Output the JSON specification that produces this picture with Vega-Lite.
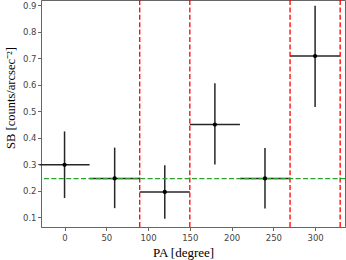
{
  "$schema": "https://vega.github.io/schema/vega-lite/v6.json",
  "autosize": "none",
  "width": 304,
  "height": 227,
  "padding": {"left": 41, "top": 0, "right": 1, "bottom": 33},
  "background": "white",
  "config": {
    "view": {"stroke": "#666", "strokeWidth": 1},
    "axis": {"labelOverlap": false}
  },
  "datasets": {
    "pts": [
      {"pa": 0, "sb": 0.298, "xlo": -30, "xhi": 30, "ylo": 0.173, "yhi": 0.424},
      {"pa": 60, "sb": 0.247, "xlo": 30, "xhi": 90, "ylo": 0.135, "yhi": 0.363},
      {"pa": 120, "sb": 0.196, "xlo": 90, "xhi": 150, "ylo": 0.095, "yhi": 0.297},
      {"pa": 180, "sb": 0.45, "xlo": 150, "xhi": 210, "ylo": 0.299, "yhi": 0.605},
      {"pa": 240, "sb": 0.247, "xlo": 210, "xhi": 270, "ylo": 0.134, "yhi": 0.362},
      {"pa": 300, "sb": 0.708, "xlo": 270, "xhi": 330, "ylo": 0.516, "yhi": 0.897}
    ],
    "vlines": [{"pa": 90}, {"pa": 150}, {"pa": 270}, {"pa": 330}],
    "hline": [{"sb": 0.246}]
  },
  "layer": [
    {
      "data": {"name": "pts"},
      "mark": {"type": "rule", "color": "#262626", "strokeWidth": 1.5},
      "encoding": {
        "x": {
          "field": "xlo", "type": "quantitative",
          "scale": {"domain": [-28.2, 335.8], "nice": false, "zero": false},
          "axis": {
            "values": [0, 50, 100, 150, 200, 250, 300],
            "grid": false,
            "title": "PA [degree]",
            "titleFont": "Liberation Serif",
            "titleFontSize": 13,
            "titleFontWeight": "normal",
            "titleColor": "black",
            "titleX": 142,
            "titleY": 29,
            "titleAlign": "center",
            "titleBaseline": "alphabetic",
            "labelFont": "DejaVu Sans",
            "labelFontSize": 8.5,
            "labelColor": "#444",
            "labelPadding": 2.5,
            "labelOverlap": false,
            "tickSize": 3.5,
            "tickColor": "#666",
            "domainColor": "#666",
            "labelFlush": false
          }
        },
        "x2": {"field": "xhi"},
        "y": {
          "field": "sb", "type": "quantitative",
          "scale": {"domain": [0.064, 0.919], "nice": false, "zero": false},
          "axis": {
            "values": [0.1, 0.2, 0.3, 0.4, 0.5, 0.6, 0.7, 0.8, 0.9],
            "tickCount": 9,
            "format": ".1f",
            "grid": false,
            "title": "SB [counts/arcsec⁻²]",
            "titleFont": "Liberation Serif",
            "titleFontSize": 12.5,
            "titleFontWeight": "normal",
            "titleColor": "black",
            "titleAngle": -90,
            "titleX": -31,
            "titleY": 97.5,
            "titleAlign": "center",
            "titleBaseline": "middle",
            "labelFont": "DejaVu Sans",
            "labelFontSize": 8.5,
            "labelColor": "#444",
            "labelPadding": 1.5,
            "labelOverlap": false,
            "tickSize": 3.5,
            "tickColor": "#666",
            "domainColor": "#666",
            "labelFlush": false
          }
        }
      }
    },
    {
      "data": {"name": "vlines"},
      "mark": {"type": "rule", "color": "#ff0000", "strokeWidth": 1.3, "strokeDash": [5, 2.4]},
      "encoding": {
        "x": {"field": "pa", "type": "quantitative"}
      }
    },
    {
      "data": {"name": "pts"},
      "mark": {"type": "rule", "color": "#262626", "strokeWidth": 1.5},
      "encoding": {
        "x": {"field": "pa", "type": "quantitative"},
        "y": {"field": "ylo", "type": "quantitative"},
        "y2": {"field": "yhi"}
      }
    },
    {
      "data": {"name": "hline"},
      "mark": {"type": "rule", "color": "#2ca02c", "strokeWidth": 1.3, "strokeDash": [5, 2.4]},
      "encoding": {
        "y": {"field": "sb", "type": "quantitative"}
      }
    },
    {
      "data": {"name": "pts"},
      "mark": {"type": "point", "filled": true, "color": "black", "size": 18, "opacity": 1},
      "encoding": {
        "x": {"field": "pa", "type": "quantitative"},
        "y": {"field": "sb", "type": "quantitative"}
      }
    }
  ]
}
